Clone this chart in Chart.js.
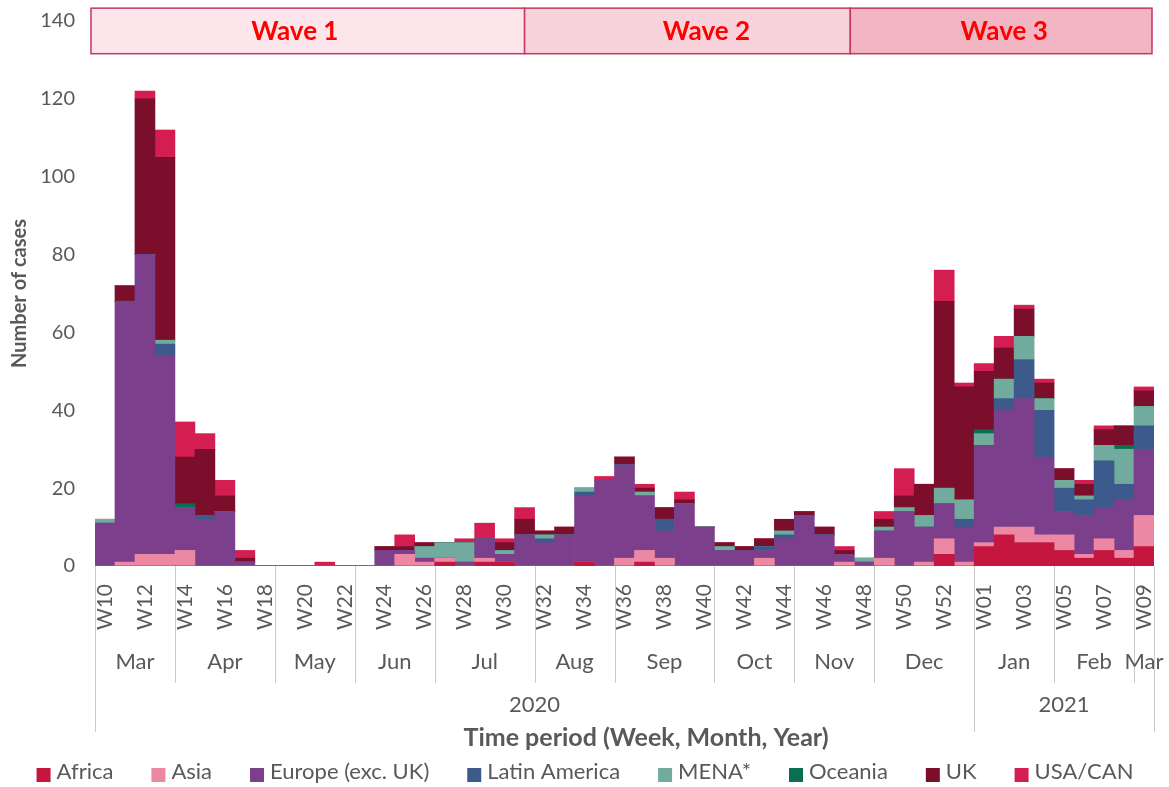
<!DOCTYPE html>
<html>
<head>
<meta charset="utf-8">
<title>Cases by region and week</title>
<script src="https://cdn.jsdelivr.net/npm/chart.js@4/dist/chart.umd.min.js"></script>
<style>
    body { margin: 0; background: #ffffff; }
</style>
</head>
<body>
<canvas id="casesChart" width="1169" height="787"></canvas>
<script>
const weeks = [
    "W10", "W11", "W12", "W13", "W14", "W15", "W16", "W17", "W18", "W19",
    "W20", "W21", "W22", "W23", "W24", "W25", "W26", "W27", "W28", "W29",
    "W30", "W31", "W32", "W33", "W34", "W35", "W36", "W37", "W38", "W39",
    "W40", "W41", "W42", "W43", "W44", "W45", "W46", "W47", "W48", "W49",
    "W50", "W51", "W52", "W53", "W01", "W02", "W03", "W04", "W05", "W06",
    "W07", "W08", "W09"
];

// month groups under the week labels (number of weeks in each)
const months = ["Mar", "Apr", "May", "Jun", "Jul", "Aug", "Sep", "Oct", "Nov", "Dec", "Jan", "Feb", "Mar"];
const monthWeeks = [4, 5, 4, 4, 5, 4, 5, 4, 4, 5, 4, 4, 1];
const years = ["2020", "2021"];
const yearWeeks = [44, 9];

// wave boxes along the top, in week units from the left edge
const waves = ["Wave 1", "Wave 2", "Wave 3"];
const waveFrom = [-0.2, 21.5, 37.8];
const waveTo = [21.5, 37.8, 52.9];
const waveLabelAt = [10, 30.6, 45.5];

const regions = ["Africa", "Asia", "Europe (exc. UK)", "Latin America", "MENA*", "Oceania", "UK", "USA/CAN"];

const africa = [
    0, 0, 0, 0, 0, 0, 0, 0, 0, 0,
    0, 0, 0, 0, 0, 0, 0, 1, 0, 1,
    1, 0, 0, 0, 1, 0, 0, 1, 0, 0,
    0, 0, 0, 0, 0, 0, 0, 0, 0, 0,
    0, 0, 3, 0, 5, 8, 6, 6, 4, 2,
    4, 2, 5
];
const asia = [
    0, 1, 3, 3, 4, 0, 0, 0, 0, 0,
    0, 0, 0, 0, 0, 3, 1, 1, 0, 1,
    0, 0, 0, 0, 0, 0, 2, 3, 2, 0,
    0, 0, 0, 2, 0, 0, 0, 1, 0, 2,
    0, 1, 4, 1, 1, 2, 4, 2, 4, 1,
    3, 2, 8
];
const europe = [
    11, 67, 77, 51, 11, 12, 14, 1, 0, 0,
    0, 0, 0, 0, 4, 1, 1, 0, 1, 5,
    2, 8, 6, 8, 17, 22, 24, 14, 7, 16,
    10, 4, 4, 2, 7, 13, 8, 2, 1, 7,
    14, 9, 9, 9, 25, 30, 33, 20, 6, 10,
    8, 13, 17
];
const latinAmerica = [
    0, 0, 0, 3, 0, 1, 0, 0, 0, 0,
    0, 0, 0, 0, 0, 0, 0, 0, 0, 0,
    0, 0, 1, 0, 1, 0, 0, 0, 3, 0,
    0, 0, 0, 1, 1, 0, 0, 0, 0, 0,
    0, 0, 0, 2, 0, 3, 10, 12, 6, 4,
    12, 4, 6
];
const mena = [
    1, 0, 0, 1, 0, 0, 0, 0, 0, 0,
    0, 0, 0, 0, 0, 0, 3, 4, 5, 0,
    1, 0, 1, 0, 1, 0, 0, 1, 0, 0,
    0, 1, 0, 0, 1, 0, 0, 0, 1, 1,
    1, 3, 4, 5, 3, 5, 6, 3, 2, 1,
    4, 9, 5
];
const oceania = [
    0, 0, 0, 0, 1, 0, 0, 0, 0, 0,
    0, 0, 0, 0, 0, 0, 0, 0, 0, 0,
    0, 0, 0, 0, 0, 0, 0, 0, 0, 0,
    0, 0, 0, 0, 0, 0, 0, 0, 0, 0,
    0, 0, 0, 0, 1, 0, 0, 0, 0, 0,
    0, 1, 0
];
const uk = [
    0, 4, 40, 47, 12, 17, 4, 1, 0, 0,
    0, 0, 0, 0, 1, 1, 1, 0, 0, 0,
    2, 4, 1, 2, 0, 0, 2, 1, 3, 1,
    0, 1, 1, 2, 3, 1, 2, 1, 0, 2,
    3, 8, 48, 29, 15, 8, 7, 4, 3, 3,
    4, 5, 4
];
const usaCan = [
    0, 0, 2, 7, 9, 4, 4, 2, 0, 0,
    0, 1, 0, 0, 0, 3, 0, 0, 1, 4,
    1, 3, 0, 0, 0, 1, 0, 1, 0, 2,
    0, 0, 0, 0, 0, 0, 0, 1, 0, 2,
    7, 0, 8, 1, 2, 3, 1, 1, 0, 1,
    1, 0, 1
];

const seriesValues = [africa, asia, europe, latinAmerica, mena, oceania, uk, usaCan];
const colors = ["#C4163F", "#EC88A4", "#7B3F8C", "#3C5B8C", "#70AB9D", "#0A6E50", "#7B0E2B", "#D41E52"];
const waveFills = ["#FCE6EC", "#F8D3DC", "#F1B5C4"];

const textGrey = "#595959";
Chart.defaults.font.family = "Lato, 'Open Sans', sans-serif";
Chart.defaults.color = textGrey;

// draws the wave boxes, month/year rows, axis title and legend
const extrasPlugin = {
    id: "extras",
    afterDraw(chart) {
        const ctx = chart.ctx;
        const area = chart.chartArea;
        const yScale = chart.scales.y;
        const unit = (area.right - area.left) / weeks.length;
        const edge = (u) => area.left + u * unit;

        ctx.save();

        // wave header boxes
        const boxTop = yScale.getPixelForValue(143.3);
        const boxBottom = yScale.getPixelForValue(131.6);
        waves.forEach((name, i) => {
            const x0 = edge(waveFrom[i]);
            const x1 = edge(waveTo[i]);
            ctx.fillStyle = waveFills[i];
            ctx.fillRect(x0, boxTop, x1 - x0, boxBottom - boxTop);
            ctx.strokeStyle = "#C5375F";
            ctx.lineWidth = 1.5;
            ctx.strokeRect(x0, boxTop, x1 - x0, boxBottom - boxTop);
            ctx.fillStyle = "#FF0000";
            ctx.font = "bold 26px Lato";
            ctx.textAlign = "center";
            ctx.textBaseline = "middle";
            ctx.fillText(name, edge(waveLabelAt[i]), (boxTop + boxBottom) / 2 + 1);
        });

        // separators and month labels
        ctx.strokeStyle = "#C9C9C9";
        ctx.lineWidth = 1;
        const yearEdges = [0];
        yearWeeks.forEach((n, i) => yearEdges.push(yearEdges[i] + n));

        let pos = 0;
        ctx.fillStyle = textGrey;
        ctx.font = "22px Lato";
        ctx.textAlign = "center";
        ctx.textBaseline = "middle";
        months.forEach((m, i) => {
            const x0 = edge(pos);
            const x1 = edge(pos + monthWeeks[i]);
            ctx.fillText(m, (x0 + x1) / 2, area.bottom + 96);
            pos += monthWeeks[i];
            if (!yearEdges.includes(pos)) {
                ctx.beginPath();
                ctx.moveTo(Math.round(x1) + 0.5, area.bottom);
                ctx.lineTo(Math.round(x1) + 0.5, area.bottom + 117);
                ctx.stroke();
            }
        });

        yearEdges.forEach((w) => {
            const x = Math.round(edge(w)) + 0.5;
            ctx.beginPath();
            ctx.moveTo(x, area.bottom);
            ctx.lineTo(x, area.bottom + 166);
            ctx.stroke();
        });
        years.forEach((y, i) => {
            const x0 = edge(yearEdges[i]);
            const x1 = edge(yearEdges[i + 1]);
            ctx.fillText(y, (x0 + x1) / 2, area.bottom + 139);
        });

        // x axis title
        ctx.font = "bold 25px Lato";
        ctx.fillText("Time period (Week, Month, Year)", 646, area.bottom + 172);

        // legend
        ctx.font = "22px Lato";
        const box = 14, gap = 6, spacing = 38;
        const widths = regions.map((r) => box + gap + ctx.measureText(r).width);
        const total = widths.reduce((a, b) => a + b, 0) + spacing * (regions.length - 1);
        let lx = 585 - total / 2;
        const ly = 772;
        ctx.textAlign = "left";
        regions.forEach((r, i) => {
            ctx.fillStyle = colors[i];
            ctx.fillRect(lx, ly - 4, box, box);
            ctx.fillStyle = textGrey;
            ctx.fillText(r, lx + box + gap, ly);
            lx += widths[i] + spacing;
        });

        ctx.restore();
    }
};

const ctx = document.getElementById("casesChart").getContext("2d");
const casesChart = new Chart(ctx, {
    type: "bar",
    data: {
        labels: weeks,
        datasets: regions.map((r, i) => ({
            label: r,
            data: seriesValues[i],
            backgroundColor: colors[i],
            borderWidth: 0,
            categoryPercentage: 1.0,
            barPercentage: 1.0
        }))
    },
    options: {
        responsive: false,
        animation: false,
        layout: {
            padding: { top: 21, right: 15, bottom: 0, left: 0 }
        },
        scales: {
            x: {
                stacked: true,
                grid: { display: false },
                border: { display: false },
                ticks: {
                    autoSkip: false,
                    minRotation: 90,
                    maxRotation: 90,
                    padding: 10,
                    color: textGrey,
                    font: { size: 21 },
                    callback: (value, index) => (index % 2 === 0 ? weeks[index] : "")
                },
                afterFit: (scale) => {
                    scale.height = 221;
                    scale.paddingLeft = 0;
                    scale.paddingRight = 0;
                }
            },
            y: {
                stacked: true,
                min: 0,
                max: 140,
                grid: { display: false },
                border: { display: false },
                ticks: {
                    stepSize: 20,
                    padding: 12,
                    color: textGrey,
                    font: { size: 20 }
                },
                title: {
                    display: true,
                    text: "Number of cases",
                    color: textGrey,
                    font: { size: 20, weight: "bold" },
                    padding: { top: 8, bottom: 0 }
                },
                afterFit: (scale) => {
                    scale.width = 95;
                    scale.paddingTop = 0;
                    scale.paddingBottom = 0;
                }
            }
        },
        plugins: {
            legend: { display: false },
            tooltip: { enabled: false }
        }
    },
    plugins: [extrasPlugin]
});
</script>
</body>
</html>
